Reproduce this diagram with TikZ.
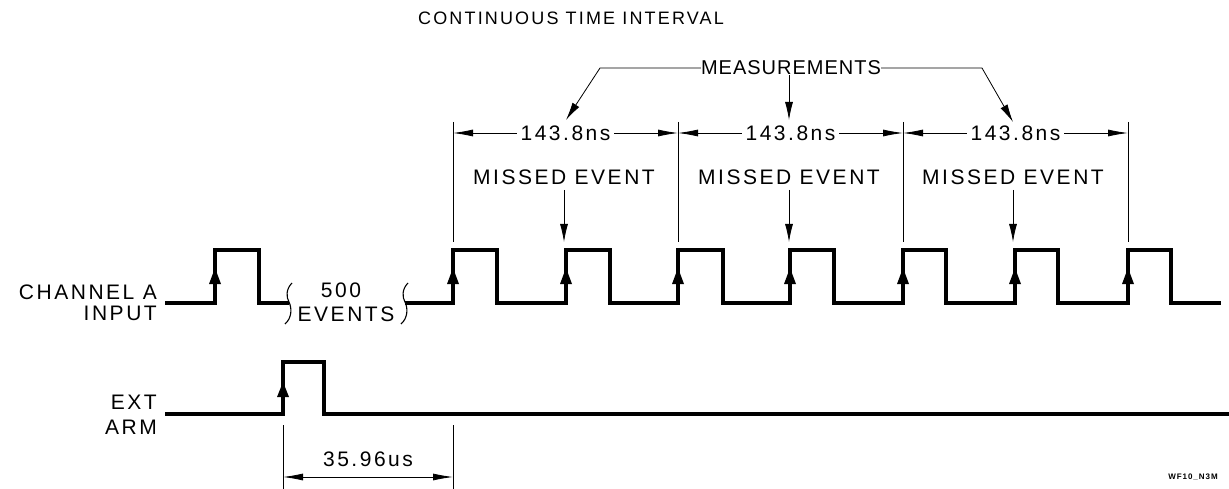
\documentclass[tikz,border=0pt]{standalone}
\usepackage{fontspec}
\setmainfont{Liberation Sans}[LetterSpace=12]
\usetikzlibrary{arrows.meta}
\begin{document}
\begin{tikzpicture}[x=1pt,y=-1pt,
  lbl/.style={font=\fontsize{21}{24}\selectfont, inner sep=0pt},
  measlbl/.style={font=\fontsize{20}{24}\selectfont\addfontfeature{LetterSpace=5}, inner sep=0pt},
  ttl/.style={font=\fontsize{18}{22}\selectfont, inner sep=0pt},
  tiny/.style={font=\fontsize{8}{9}\selectfont\bfseries, inner sep=0pt},
  wave/.style={line width=3.5pt, line join=miter},
  thin/.style={line width=0.8pt},
  brk/.style={line width=1.1pt},
  dimarrow/.style={line width=0.8pt, {Latex[length=20pt,width=7pt]}-{Latex[length=20pt,width=7pt]}},
  ptr/.style={line width=0.8pt, -{Latex[length=18pt,width=8pt]}},
  edgetri/.style={fill=black}
]
\useasboundingbox (0,0) rectangle (1229,489);

% title
\node[ttl] (title) at (571,18) {CONTINUOUS TIME INTERVAL};

% signal labels
\node[lbl, anchor=east] (cha) at (157,292) {CHANNEL A};
\node[lbl, anchor=east] (inp) at (157,313) {INPUT};
\node[lbl, anchor=east] (ext) at (157,402) {EXT};
\node[lbl, anchor=east] (arm) at (157,427) {ARM};

% 500 events break
\node[lbl] (n500) at (341,290) {500};
\node[lbl] (nev) at (346,314) {EVENTS};
\draw[brk] (292,283) .. controls (286,289) and (286,297) .. (289,302) .. controls (292,308) and (292,318) .. (285,324);
\draw[brk] (408,283) .. controls (402,289) and (402,297) .. (405,302) .. controls (408,308) and (408,318) .. (401,324);

% channel A waveform
\draw[wave] (165,303) -- (215,303) -- (215,250) -- (259,250) -- (259,303) -- (289,303);
\draw[wave] (405,303) -- (453,303) -- (453,250) -- (497,250) -- (497,303)
  -- (566,303) -- (566,250) -- (610,250) -- (610,303)
  -- (678,303) -- (678,250) -- (723,250) -- (723,303)
  -- (790,303) -- (790,250) -- (834,250) -- (834,303)
  -- (903,303) -- (903,250) -- (946,250) -- (946,303)
  -- (1015,303) -- (1015,250) -- (1058,250) -- (1058,303)
  -- (1128,303) -- (1128,250) -- (1171,250) -- (1171,303) -- (1221,303);
\foreach \x in {215,453,566,678,790,903,1015,1128}
  \fill[edgetri] (\x,268) -- (\x-6,284) -- (\x+6,284) -- cycle;

% ext arm waveform
\draw[wave] (165,414) -- (283,414) -- (283,362) -- (324,362) -- (324,414) -- (1229,414);
\fill[edgetri] (283,382) -- (277,397) -- (289,397) -- cycle;

% measurement dimension lines
\foreach \x/\n in {453/a,678/b,903/c,1128/d}{
  \coordinate (v\n) at (\x,133);
  \draw[thin] (\x,122) -- (\x,242);
}
\draw[dimarrow] (va) -- node[lbl, fill=white, inner xsep=4pt] (d1) {143.8ns} (vb);
\draw[dimarrow] (vb) -- node[lbl, fill=white, inner xsep=4pt] (d2) {143.8ns} (vc);
\draw[dimarrow] (vc) -- node[lbl, fill=white, inner xsep=4pt] (d3) {143.8ns} (vd);

% measurements
\node[measlbl] (meas) at (791,68) {MEASUREMENTS};
\coordinate (mt1) at (566,120);
\coordinate (mt2) at (789,120);
\coordinate (mt3) at (1013,122);
\draw[ptr] (meas.west) -- (600,68) -- (mt1);
\draw[ptr] (meas.south -| mt2) -- (mt2);
\draw[ptr] (meas.east) -- (982,68) -- (mt3);

% missed events
\foreach \x/\n in {564/1,789/2,1013/3}{
  \node[lbl] (me\n) at (\x,177) {MISSED EVENT};
  \coordinate (mp\n) at (\x,242);
  \draw[ptr] (\x,190) -- (mp\n);
}

% 35.96us dimension
\draw[thin] (283,425) -- (283,489);
\draw[thin] (453,425) -- (453,489);
\coordinate (ba) at (283,477);
\coordinate (bb) at (453,477);
\draw[dimarrow] (ba) -- (bb);
\node[lbl] (d4) at (368,459) {35.96us};

% figure id
\node[tiny] (fid) at (1193,477) {WF10\_N3M};
\end{tikzpicture}
\end{document}
